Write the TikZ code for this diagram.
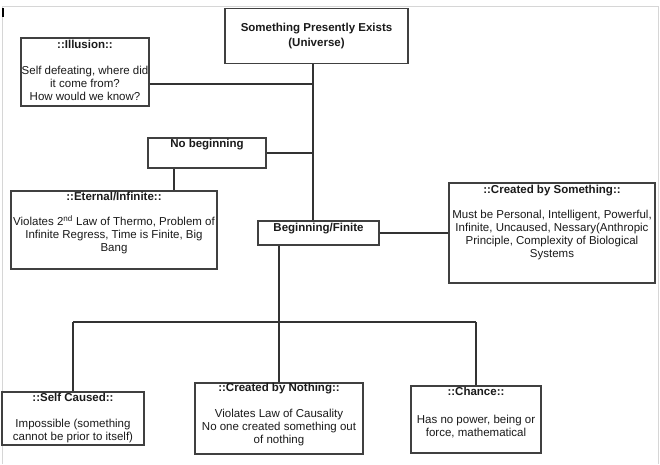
\documentclass[tikz,border=0pt]{standalone}
\usepackage{fontspec}
\setmainfont{Liberation Sans}
\usepackage{tikz}
\usetikzlibrary{positioning,calc}
\definecolor{edge}{HTML}{404040}
\definecolor{wire}{HTML}{333333}
\definecolor{inktext}{HTML}{1A1A1A}
\definecolor{pageframe}{HTML}{D6D6D6}
\tikzset{
  box/.style={
    rectangle, draw=edge, fill=white, line width=1.2pt,
    align=center, inner sep=0pt, text=inktext,
    font=\fontsize{11.5}{13}\selectfont
  },
  boxtext/.style={
    anchor=north, align=center, inner sep=0pt, text=inktext,
    font=\fontsize{11.5}{13}\selectfont
  },
  link/.style={
    draw=wire, line width=1.2pt
  },
}

\begin{document}
\begin{tikzpicture}[x=1pt, y=-1pt]
  \useasboundingbox (0,0) rectangle (660,464);

  % page frame and cursor
  \draw[pageframe, line width=1pt] (2,464) -- (2,6) -- (658,6) -- (658,464);
  \draw[black, line width=2pt] (3,8) -- (3,17);

  % boxes
  \node[box, minimum width=183pt, minimum height=55pt, font=\fontsize{11.5}{15}\selectfont\bfseries] (universe) at (316.5,36) {Something Presently Exists\\(Universe)};
  \node[box, minimum width=128pt, minimum height=68pt] (illusion) at (85,72) {};
  \node[box, minimum width=118pt, minimum height=30pt] (nobegin) at (207,153) {};
  \node[box, minimum width=206pt, minimum height=78pt] (eternal) at (114,230) {};
  \node[box, minimum width=121pt, minimum height=24pt] (beginfin) at (318.5,233) {};
  \node[box, minimum width=206pt, minimum height=100pt] (bysomething) at (552,233) {};
  \node[box, minimum width=142pt, minimum height=53pt] (selfcaused) at (73,418.5) {};
  \node[box, minimum width=168pt, minimum height=71pt] (bynothing) at (279,418.5) {};
  \node[box, minimum width=130pt, minimum height=67pt] (chance) at (476,419.5) {};

  % texts
  \node[boxtext] (illusiontxt) at ([yshift=-2.5pt]illusion.north) {\textbf{::Illusion::}\\[13pt]Self defeating, where did\\it come from?\\How would we know?};
  \node[boxtext] (nobegintxt) at ([yshift=-1.5pt]nobegin.north) {\textbf{No beginning}};
  \node[boxtext] (eternaltxt) at ([yshift=-2pt]eternal.north) {\textbf{::Eternal/Infinite::}\\[12pt]Violates 2\textsuperscript{nd} Law of Thermo, Problem of\\Infinite Regress, Time is Finite, Big\\Bang};
  \node[boxtext] (beginfintxt) at ([yshift=-2.5pt]beginfin.north) {\textbf{Beginning/Finite}};
  \node[boxtext] (bysomethingtxt) at ([yshift=-2.5pt]bysomething.north) {\textbf{::Created by Something::}\\[12pt]Must be Personal, Intelligent, Powerful,\\Infinite, Uncaused, Nessary(Anthropic\\Principle, Complexity of Biological\\Systems};
  \node[boxtext] (selfcausedtxt) at ([yshift=-2pt]selfcaused.north) {\textbf{::Self Caused::}\\[13pt]Impossible (something\\cannot be prior to itself)};
  \node[boxtext] (bynothingtxt) at ([yshift=-1pt]bynothing.north) {\textbf{::Created by Nothing::}\\[13pt]Violates Law of Causality\\No one created something out\\of nothing};
  \node[boxtext] (chancetxt) at ([yshift=-1.5pt]chance.north) {\textbf{::Chance::}\\[15pt]Has no power, being or\\force, mathematical};

  % connectors
  \coordinate (spine) at (313,0);
  \coordinate (nbdrop) at (174,0);
  \coordinate (split) at (279,322);
  \draw[link] (universe.south -| spine) -- (beginfin.north -| spine);
  \draw[link] ([yshift=-12pt]illusion.east) -- ([yshift=-12pt]illusion.east -| spine);
  \draw[link] (nobegin.east) -- (nobegin.east -| spine);
  \draw[link] (nobegin.south -| nbdrop) -- (eternal.north -| nbdrop);
  \draw[link] (beginfin.east) -- (bysomething.west);
  \draw[link] (beginfin.south -| split) -- (split);
  \draw[link] (split -| selfcaused.north) -- (split -| chance.north);
  \foreach \c in {selfcaused,bynothing,chance} {
    \draw[link] (split -| \c.north) -- (\c.north);
  }
\end{tikzpicture}
\end{document}
